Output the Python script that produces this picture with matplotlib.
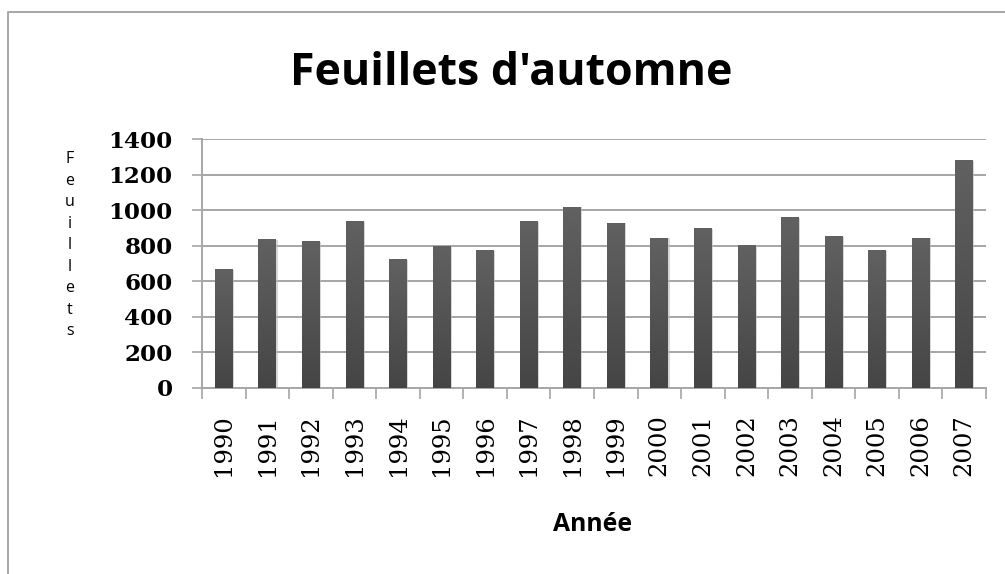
import matplotlib
matplotlib.use("Agg")
import matplotlib.pyplot as plt
import numpy as np
from matplotlib.lines import Line2D

years = ["1990", "1991", "1992", "1993", "1994", "1995", "1996", "1997", "1998",
         "1999", "2000", "2001", "2002", "2003", "2004", "2005", "2006", "2007"]
feuillets = [670, 835, 825, 940, 725, 800, 775, 940, 1020,
             930, 845, 900, 805, 960, 855, 775, 845, 1280]
yticks = [0, 200, 400, 600, 800, 1000, 1200, 1400]

title = "Feuillets d'automne"
xlabel = "Année"
ylabel = "Feuillets"

W, H = 1005, 574
fig = plt.figure(figsize=(W / 100, H / 100), dpi=100)
fig.patch.set_facecolor("white")

def fx(px):
    return px / W

def fy(py):
    return 1 - py / H

left, right, top, bottom = 202, 986, 139, 388
ax = fig.add_axes([fx(left), fy(bottom), fx(right) - fx(left), fy(top) - fy(bottom)])

x = np.arange(len(years))
bars = ax.bar(x, feuillets, width=0.41, color="#555555", zorder=3)

# gradient fill + soft shadow on each bar
grad = np.linspace(0, 1, 256).reshape(-1, 1)
cmap = matplotlib.colors.LinearSegmentedColormap.from_list("g", ["#454545", "#616161"])
for b in bars:
    bx, by, bw, bh = b.get_x(), b.get_y(), b.get_width(), b.get_height()
    sh = plt.Rectangle((bx + 0.03, by), bw, bh - 4, facecolor="#bdbdbd", edgecolor="none",
                       alpha=0.6, zorder=2)
    ax.add_patch(sh)
    im = ax.imshow(grad, extent=[bx, bx + bw, by, by + bh], origin="lower",
                   cmap=cmap, aspect="auto", zorder=4)
    im.set_clip_path(b)
    b.set_facecolor("none")

ax.set_xlim(-0.5, len(years) - 0.5)
ax.set_ylim(0, 1400)
ax.set_yticks(yticks)
ax.set_yticklabels([str(v) for v in yticks], fontfamily="DejaVu Serif",
                   fontweight="bold", fontsize=16.6)
ax.yaxis.grid(True, color="#a6a6a6", linewidth=1.4, zorder=0)
ax.set_axisbelow(True)

ax.set_xticks(x)
ax.set_xticklabels(years, rotation=90, fontfamily="DejaVu Serif", fontsize=17.5)
ax.tick_params(axis="x", which="major", length=0, pad=19)
ax.set_xticks(np.arange(-0.5, len(years)), minor=True)
ax.tick_params(axis="x", which="minor", length=8, width=1.2, color="#a6a6a6", direction="out")
ax.tick_params(axis="y", length=7, width=1.2, color="#a6a6a6", pad=14)

for s in ["top", "right"]:
    ax.spines[s].set_visible(False)
for s in ["left", "bottom"]:
    ax.spines[s].set_color("#a6a6a6")
    ax.spines[s].set_linewidth(1.4)

renderer = fig.canvas.get_renderer()

def fit_text(xp, yp, s, target_w, family, weight, va="baseline"):
    t = fig.text(fx(xp), fy(yp), s, ha="center", va=va, fontfamily=family,
                 fontweight=weight, fontsize=20)
    w = t.get_window_extent(renderer).width
    t.set_fontsize(20 * target_w / w)
    return t

fit_text(511.5, 85, title, 443, "Open Sans", "bold")
fit_text(592.5, 531, xlabel, 79, "Open Sans", "bold")

fig.text(fx(70), fy(151), "\n".join(list(ylabel)), ha="center", va="top",
         fontfamily="Open Sans", fontsize=11.5, linespacing=1.46)

# chart-area border (top & left visible)
fig.add_artist(Line2D([fx(7.5), fx(7.5), fx(1010)], [fy(580), fy(11.5), fy(11.5)],
                      color="#a6a6a6", linewidth=1.4, transform=fig.transFigure))

fig.savefig("out.png", dpi=100, facecolor="white")
